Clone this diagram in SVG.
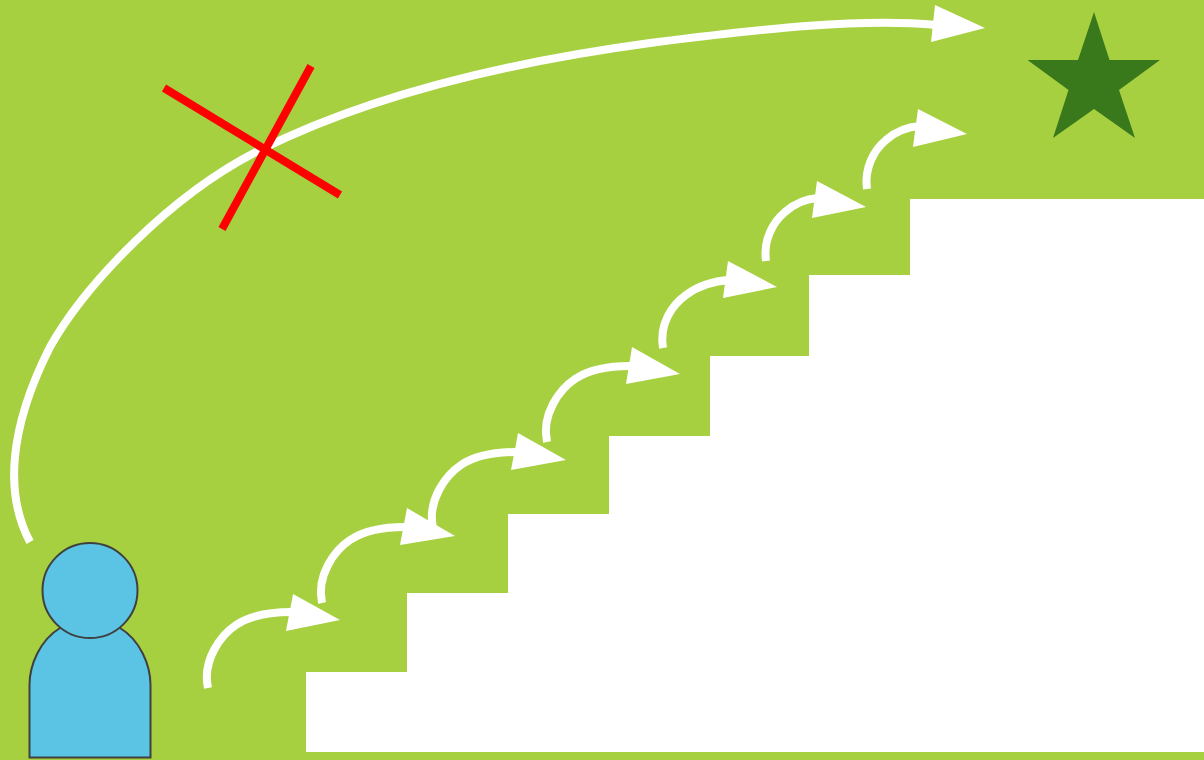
<svg xmlns="http://www.w3.org/2000/svg" width="1204" height="760" viewBox="0 0 1204 760">
<style>
.arc{fill:none;stroke:#fff;stroke-width:8}
.head{fill:#fff}
.x{fill:none;stroke:#f00;stroke-width:8}
.person{fill:#5bc3e4;stroke:#404040;stroke-width:2}
</style>
<rect width="1204" height="760" fill="#a6d03f"/>
<polygon id="stairs" fill="#fff" points="306,672 407,672 407,593 508,593 508,514 609,514 609,436 710,436 710,356 809,356 809,275 910,275 910,199 1204,199 1204,752 306,752"/>
<g id="person">
<path class="person" d="M29.500,757.500V685C29.500,665 40,640 60,628H120C140,640 150.500,665 150.500,685V757.500Z"/>
<circle class="person" cx="90" cy="590.500" r="47.500"/>
</g>
<polygon id="star" fill="#3a781c" points="1094,12 1109.500,60 1160,60 1119,90 1135,138 1094,109 1053,138 1068.500,90 1027.500,60 1078,60"/>
<g id="connectors">
<path class="arc" d="M30,542C5,495 8,430 50,347C85,285 170,195 260,150C370,95 510,62 650,43C770,28 860,18 937,25"/>
<polygon class="head" points="935,5 985,28 931,42"/>
<path class="arc" d="M208,688C202,660 221,635 236,625C251,615 271,612 291,612"/>
<polygon class="head" points="293,594 340,620 286,631"/>
<path class="arc" d="M322,603C316,575 335,550 350,540C365,530 385,527 405,527"/>
<polygon class="head" points="407,508 455,536 400,545"/>
<path class="arc" d="M433,528C427,500 446,475 461,465C476,455 496,452 516,452"/>
<polygon class="head" points="518,433 566,460 511,470"/>
<path class="arc" d="M547,442C541,414 560,389 575,379C590,369 610,366 630,366"/>
<polygon class="head" points="632,347 680,374 626,384"/>
<path class="arc" d="M663,348C659,324 672,305 686,295C698,286 712,281 730,280"/>
<polygon class="head" points="728,261 777,287 723,298"/>
<path class="arc" d="M766,261C763,240 773,222 785,212C794,204 804,199 818,198"/>
<polygon class="head" points="817,181 866,207 812,218"/>
<path class="arc" d="M867,189C864,168 874,150 886,140C895,132 905,127 920,126"/>
<polygon class="head" points="918,109 967,134 913,147"/>
<g>
<line class="x" x1="164" y1="88" x2="340" y2="195"/>
<line class="x" x1="311" y1="66" x2="222" y2="229"/>
</g>
</g>
</svg>
